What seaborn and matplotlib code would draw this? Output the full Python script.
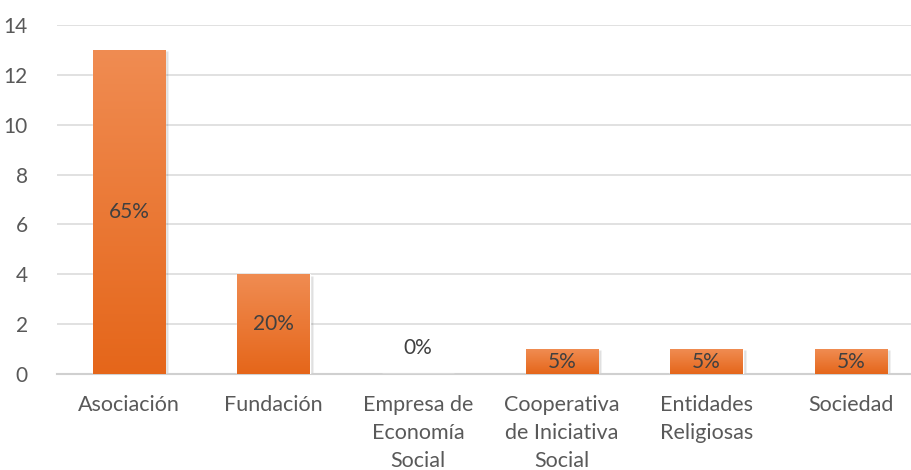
import matplotlib
matplotlib.use("Agg")
import matplotlib.pyplot as plt
import seaborn as sns
import numpy as np
import pandas as pd
from matplotlib.colors import LinearSegmentedColormap

# datos
categorias = ["Asociación", "Fundación", "Empresa de\nEconomía\nSocial",
              "Cooperativa\nde Iniciativa\nSocial", "Entidades\nReligiosas", "Sociedad"]
valores = [13, 4, 0, 1, 1, 1]
etiquetas = ["65%", "20%", "0%", "5%", "5%", "5%"]
yticks = [0, 2, 4, 6, 8, 10, 12, 14]

df = pd.DataFrame({"Tipo": categorias, "Valor": valores})

sns.set_style("white")
plt.rcParams["font.family"] = ["Lato", "DejaVu Sans"]

fig = plt.figure(figsize=(9.11, 4.70), dpi=100)
ax = fig.add_axes([57 / 911, 96 / 470, 866 / 911, 349 / 470])

sns.barplot(data=df, x="Tipo", y="Valor", color="#ED7D31", width=0.5, ax=ax,
            saturation=1, zorder=3)

# degradado vertical dentro de cada barra (claro arriba, oscuro abajo)
cmap = LinearSegmentedColormap.from_list("naranja", ["#E5661A", "#F08C52"])
grad = np.linspace(0, 1, 256).reshape(-1, 1)
for bar in ax.patches:
    h = bar.get_height()
    if h <= 0:
        continue
    x0 = bar.get_x()
    w = bar.get_width()
    # sombra suave
    ax.bar(x0 + w / 2 + 0.012, h, width=w + 0.02, bottom=-0.05, color="#000000",
           alpha=0.12, zorder=2)
    im = ax.imshow(grad, extent=[x0, x0 + w, 0, h], origin="lower", cmap=cmap,
                   aspect="auto", zorder=4)
    im.set_clip_path(bar)

for i, (v, lab) in enumerate(zip(valores, etiquetas)):
    if v > 0:
        ax.text(i, v / 2, lab, ha="center", va="center", fontsize=15,
                color="#404040", zorder=5)
    else:
        ax.text(i, v + 1.05, lab, ha="center", va="center", fontsize=15,
                color="#404040", zorder=5)

ax.set_xlim(-0.5, 5.5)
ax.set_ylim(0, 14)
ax.set_yticks(yticks)
ax.set_xlabel("")
ax.set_ylabel("")
ax.grid(axis="y", color="#D9D9D9", linewidth=1.1, zorder=0)
ax.set_axisbelow(True)
for s in ["top", "right", "left"]:
    ax.spines[s].set_visible(False)
ax.spines["bottom"].set_color("#D0D0D0")
ax.spines["bottom"].set_linewidth(1.5)
ax.tick_params(axis="x", length=0, pad=15, labelsize=15.5, labelcolor="#595959")
ax.tick_params(axis="y", length=0, pad=21, labelsize=15, labelcolor="#595959")
for t in ax.get_xticklabels():
    t.set_linespacing(1.5)
    t.set_verticalalignment("top")

fig.savefig("out.png", dpi=100)
